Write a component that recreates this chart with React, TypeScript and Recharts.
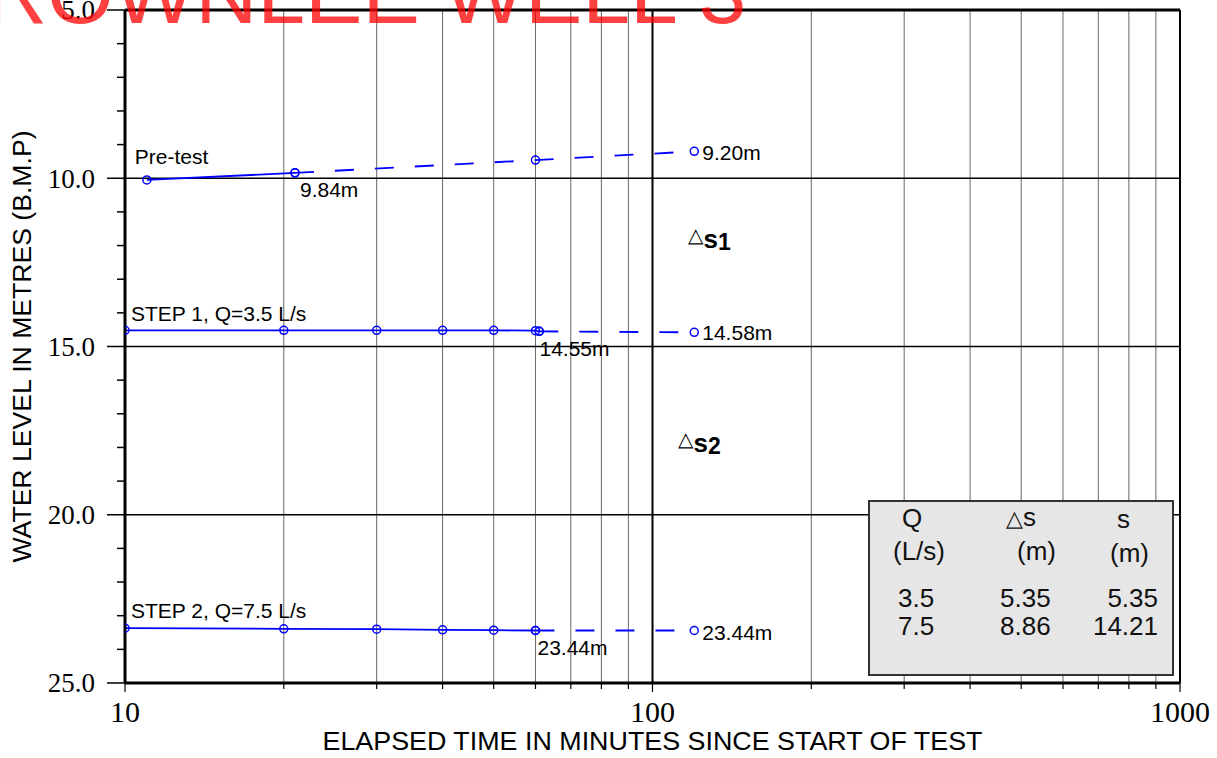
import { ComposedChart, Line, XAxis, YAxis, ReferenceLine, ReferenceDot } from "recharts";

// measured water levels (m below measuring point) vs elapsed minutes
const preTestMeasured = [
    { x: 11, y: 10.05 },
    { x: 21, y: 9.84 },
];
const preTestTrend = [
    { x: 21, y: 9.84 },
    { x: 60, y: 9.46 },
    { x: 120, y: 9.2 },
];
const step1Measured = [
    { x: 10, y: 14.52 },
    { x: 20, y: 14.52 },
    { x: 30, y: 14.52 },
    { x: 40, y: 14.52 },
    { x: 50, y: 14.52 },
    { x: 60, y: 14.53 },
    { x: 61, y: 14.55 },
];
const step1Trend = [
    { x: 61, y: 14.55 },
    { x: 120, y: 14.58 },
];
const step2Measured = [
    { x: 10, y: 23.37 },
    { x: 20, y: 23.39 },
    { x: 30, y: 23.4 },
    { x: 40, y: 23.42 },
    { x: 50, y: 23.43 },
    { x: 60, y: 23.44 },
];
const step2Trend = [
    { x: 60, y: 23.44 },
    { x: 120, y: 23.44 },
];

const xMajorTicks = [10, 100, 1000];
const xMinorTicks = [20, 30, 40, 50, 60, 70, 80, 90, 200, 300, 400, 500, 600, 700, 800, 900];
const yTicks = [5, 6, 7, 8, 9, 10, 11, 12, 13, 14, 15, 16, 17, 18, 19, 20, 21, 22, 23, 24, 25];
const yMajorGrid = [10, 15, 20];

const annotations = [
    { x: 11, y: 10.05, text: "Pre-test" },
    { x: 21, y: 9.84, text: "9.84m" },
    { x: 120, y: 9.2, text: "9.20m" },
    { x: 10, y: 14.52, text: "STEP 1, Q=3.5 L/s" },
    { x: 60, y: 14.55, text: "14.55m" },
    { x: 120, y: 14.58, text: "14.58m" },
    { x: 10, y: 23.37, text: "STEP 2, Q=7.5 L/s" },
    { x: 60, y: 23.44, text: "23.44m" },
    { x: 120, y: 23.44, text: "23.44m" },
];
const annotationOffsets: [number, number][] = [
    [-12, -16], [5, 24], [8, 9],
    [6, -9], [4, 25], [8, 8],
    [6, -10], [2, 24], [8, 9],
];

const drawdownMarks = [
    { x: 117, y: 12.07, sub: "1" },
    { x: 112, y: 18.13, sub: "2" },
];

const tableQ = ["3.5", "7.5"];
const tableDs = ["5.35", "8.86"];
const tableS = ["5.35", "14.21"];

const BLUE = "#0000ff";
const SANS = "'Liberation Sans', Arial, sans-serif";
const SERIF = "'Liberation Serif', 'Times New Roman', serif";
const DASH = "19 21";

const markerDot = { r: 4, stroke: BLUE, strokeWidth: 1.5, fill: "none", strokeDasharray: "none" };

const YTick = (props: any) => {
    const { x, y, payload } = props;
    const v = payload.value as number;
    const major = v % 5 === 0;
    return (
        <g>
            <line x1={x} x2={x - (major ? 18 : 8)} y1={y} y2={y} stroke="#000" strokeWidth={1.5} />
            {major && (
                <text x={x - 30} y={y} dy="0.35em" textAnchor="end" fontFamily={SERIF} fontSize={27} fill="#000">
                    {v.toFixed(1)}
                </text>
            )}
        </g>
    );
};

const XTick = (props: any) => {
    const { x, y, payload } = props;
    const v = payload.value as number;
    const major = xMajorTicks.includes(v);
    return (
        <g>
            <line x1={x} x2={x} y1={y} y2={y + (major ? 9 : 6)} stroke="#000" strokeWidth={1.2} />
            {major && (
                <text x={x} y={y + 39} textAnchor="middle" fontFamily={SERIF} fontSize={30} fill="#000">
                    {v}
                </text>
            )}
        </g>
    );
};

export default function App() {
    return (
        <div style={{ position: "relative", width: 1217, height: 758, overflow: "hidden", background: "#fff" }}>
            <style>{`body{margin:0}`}</style>
            <ComposedChart width={1217} height={758} margin={{ top: 10, right: 37, left: 0, bottom: 0 }}>
                <XAxis
                    type="number"
                    dataKey="x"
                    scale="log"
                    domain={[10, 1000]}
                    allowDataOverflow
                    ticks={[...xMajorTicks, ...xMinorTicks]}
                    interval={0}
                    tick={<XTick />}
                    tickLine={false}
                    tickSize={0}
                    tickMargin={0}
                    height={75}
                    axisLine={{ stroke: "#000", strokeWidth: 3 }}
                    label={{
                        content: (p: any) => (
                            <text
                                x={p.viewBox.x + p.viewBox.width / 2}
                                y={p.viewBox.y + p.viewBox.height - 8}
                                textAnchor="middle"
                                fontFamily={SANS}
                                fontSize={25}
                                textLength={660}
                                lengthAdjust="spacingAndGlyphs"
                                fill="#000"
                            >
                                ELAPSED TIME IN MINUTES SINCE START OF TEST
                            </text>
                        ),
                    }}
                />
                <YAxis
                    type="number"
                    dataKey="y"
                    domain={[5, 25]}
                    reversed
                    allowDataOverflow
                    ticks={yTicks}
                    interval={0}
                    tick={<YTick />}
                    tickLine={false}
                    tickSize={0}
                    tickMargin={0}
                    width={125}
                    axisLine={{ stroke: "#000", strokeWidth: 3 }}
                    label={{
                        content: (p: any) => {
                            const cx = 31;
                            const cy = p.viewBox.y + p.viewBox.height / 2;
                            return (
                                <text
                                    x={cx}
                                    y={cy}
                                    transform={`rotate(-90, ${cx}, ${cy})`}
                                    textAnchor="middle"
                                    fontFamily={SANS}
                                    fontSize={25}
                                    textLength={432}
                                    lengthAdjust="spacingAndGlyphs"
                                    fill="#000"
                                >
                                    WATER LEVEL IN METRES (B.M.P)
                                </text>
                            );
                        },
                    }}
                />

                {xMinorTicks.map((v) => (
                    <ReferenceLine key={"vx" + v} x={v} stroke="#666" strokeWidth={1} />
                ))}
                <ReferenceLine x={100} stroke="#000" strokeWidth={2} />
                <ReferenceLine x={1000} stroke="#000" strokeWidth={2} />
                {yMajorGrid.map((v) => (
                    <ReferenceLine key={"hy" + v} y={v} stroke="#000" strokeWidth={1.5} />
                ))}
                <ReferenceLine y={5} stroke="#000" strokeWidth={3} />

                <Line data={preTestMeasured} dataKey="y" type="linear" stroke={BLUE} strokeWidth={1.8} dot={markerDot} isAnimationActive={false} />
                <Line data={preTestTrend} dataKey="y" type="linear" stroke={BLUE} strokeWidth={1.8} strokeDasharray={DASH} dot={markerDot} isAnimationActive={false} />
                <Line data={step1Measured} dataKey="y" type="linear" stroke={BLUE} strokeWidth={1.8} dot={markerDot} isAnimationActive={false} />
                <Line data={step1Trend} dataKey="y" type="linear" stroke={BLUE} strokeWidth={1.8} strokeDasharray={DASH} dot={markerDot} isAnimationActive={false} />
                <Line data={step2Measured} dataKey="y" type="linear" stroke={BLUE} strokeWidth={1.8} dot={markerDot} isAnimationActive={false} />
                <Line data={step2Trend} dataKey="y" type="linear" stroke={BLUE} strokeWidth={1.8} strokeDasharray={DASH} dot={markerDot} isAnimationActive={false} />

                {annotations.map((a, i) => (
                    <ReferenceDot
                        key={"an" + i}
                        x={a.x}
                        y={a.y}
                        r={1}
                        ifOverflow="visible"
                        shape={(p: any) => (
                            <text
                                x={p.cx + annotationOffsets[i][0]}
                                y={p.cy + annotationOffsets[i][1]}
                                fontFamily={SANS}
                                fontSize={21}
                                fill="#000"
                            >
                                {a.text}
                            </text>
                        )}
                    />
                ))}
                {drawdownMarks.map((d, i) => (
                    <ReferenceDot
                        key={"ds" + i}
                        x={d.x}
                        y={d.y}
                        r={1}
                        ifOverflow="visible"
                        shape={(p: any) => (
                            <text x={p.cx} y={p.cy} fontFamily={SANS} fill="#000">
                                <tspan fontSize={20} dy={-6}>△</tspan>
                                <tspan fontSize={26} fontWeight="bold" dy={6}>s</tspan>
                                <tspan fontSize={23} fontWeight="bold" dy={2}>{d.sub}</tspan>
                            </text>
                        )}
                    />
                ))}
            </ComposedChart>

            <svg width={1217} height={758} style={{ position: "absolute", left: 0, top: 0, pointerEvents: "none" }}>
                <text x={-15} y={23} fontFamily={SANS} fontSize={86} fill="#ff0000" fillOpacity={0.75}>
                    ROWNLEE WELL 3
                </text>
                <rect x={869} y={501} width={304} height={174} fill="#e6e6e6" stroke="#333" strokeWidth={2} />
                <g fontFamily={SANS} fontSize={26} fill="#111">
                    <text x={902} y={527}>Q</text>
                    <text x={893} y={560}>(L/s)</text>
                    <text x={1006} y={526}>
                        <tspan fontSize={22}>△</tspan>
                        <tspan>s</tspan>
                    </text>
                    <text x={1017} y={560}>(m)</text>
                    <text x={1117} y={528}>s</text>
                    <text x={1110} y={562}>(m)</text>
                    {tableQ.map((q, i) => (
                        <text key={"q" + i} x={898} y={607 + i * 28}>{q}</text>
                    ))}
                    {tableDs.map((d, i) => (
                        <text key={"d" + i} x={1000} y={607 + i * 28}>{d}</text>
                    ))}
                    {tableS.map((s, i) => (
                        <text key={"s" + i} x={1158} y={607 + i * 28} textAnchor="end">{s}</text>
                    ))}
                </g>
            </svg>
        </div>
    );
}
